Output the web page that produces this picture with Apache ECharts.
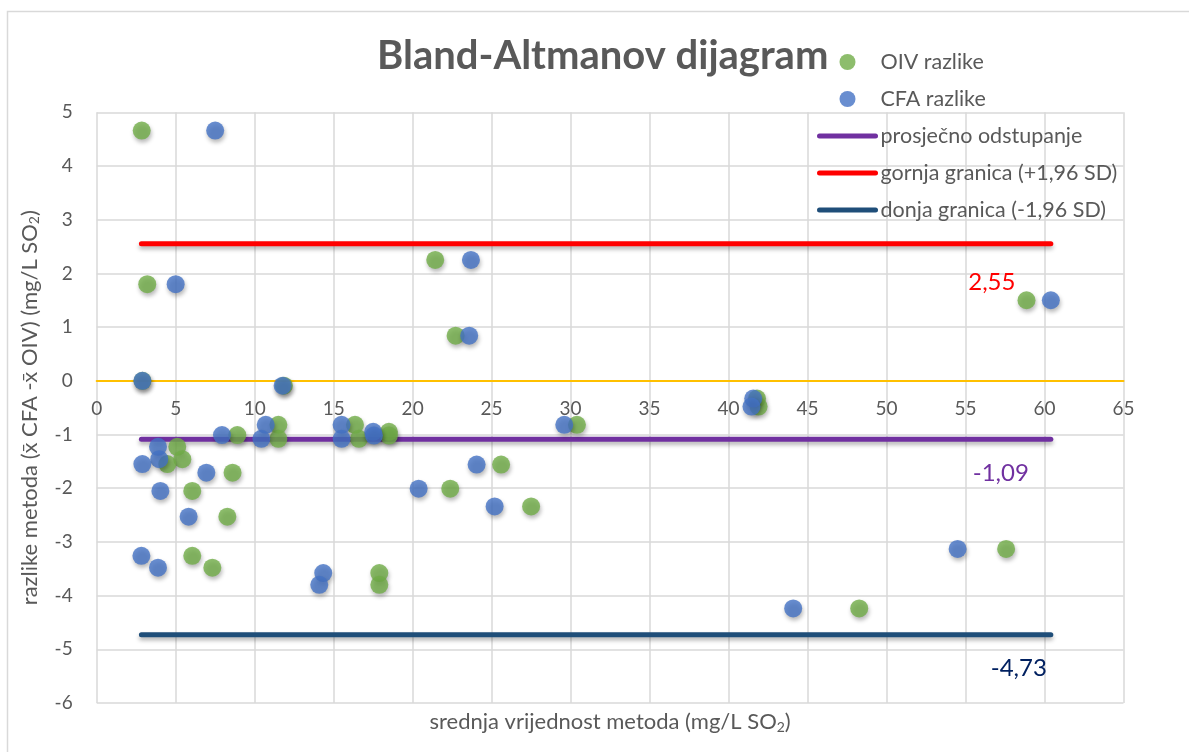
<!DOCTYPE html>
<html>
<head>
<meta charset="utf-8">
<script src="https://cdn.jsdelivr.net/npm/echarts@6/dist/echarts.min.js"></script>
<style>
html,body{margin:0;padding:0;background:#fff;}
#chart{width:1189px;height:752px;}
</style>
</head>
<body>
<div id="chart"></div>
<script>
// ---- data ----
const diffs = [4.66, 1.80, 0.00, -0.09, -1.01, -0.82, -1.08, -0.82, -1.08, -0.95, -1.02,
  -1.23, -1.46, -1.55, -1.71, -2.05, -2.53, -3.26, -3.48, -3.58, -3.80,
  2.25, 0.84, -0.82, -1.56, -2.01, -2.34, 1.50, -0.33, -0.48, -3.13, -4.24];
const oivMeans = [2.85, 3.2, 2.9, 11.85, 8.9, 11.5, 11.5, 16.35, 16.6, 18.5, 18.5,
  5.1, 5.42, 4.47, 8.6, 6.05, 8.27, 6.05, 7.32, 17.89, 17.89,
  21.43, 22.72, 30.4, 25.6, 22.38, 27.5, 58.86, 41.8, 41.9, 57.57, 48.27];
const cfaMeans = [7.5, 5.0, 2.89, 11.77, 7.93, 10.7, 10.42, 15.5, 15.5, 17.5, 17.55,
  3.88, 3.96, 2.89, 6.94, 4.03, 5.82, 2.83, 3.88, 14.34, 14.09,
  23.69, 23.58, 29.6, 24.05, 20.38, 25.19, 60.4, 41.56, 41.45, 54.5, 44.09];
const limitX = [2.83, 60.4];
const meanDiff = -1.09;
const upperLoA = 2.55;
const lowerLoA = -4.73;
const seriesNames = ['OIV razlike', 'CFA razlike', 'prosječno odstupanje',
  'gornja granica (+1,96 SD)', 'donja granica (-1,96 SD)'];
const xTicks = {min: 0, max: 65, interval: 5};
const yTicks = {min: -6, max: 5, interval: 1};

// ---- chart ----
const FONT = 'Lato, "Open Sans", sans-serif';
const GREY = '#595959';
const fmt = v => v.toFixed(2).replace('.', ',');
const pts = (xs, ys) => xs.map((x, i) => [x, ys[i]]);
const hline = y => limitX.map(x => [x, y]);

const GRID = {left: 96.7, right: 65.5, top: 112.3, bottom: 49};
const plotH = 752 - GRID.top - GRID.bottom;
const zeroOffset = -plotH * (0 - yTicks.min) / (yTicks.max - yTicks.min);

const dotStyle = color => ({
  color: color,
  shadowBlur: 4, shadowOffsetX: 1, shadowOffsetY: 3, shadowColor: 'rgba(0,0,0,0.35)'
});
const lineSeries = (name, y, color, labelColor, off) => ({
  name: name, type: 'line', data: hline(y), symbol: 'none', z: 2,
  lineStyle: {color: color, width: 5, cap: 'round',
    shadowBlur: 4, shadowOffsetY: 3, shadowColor: 'rgba(0,0,0,0.3)'},
  itemStyle: {color: color},
  emphasis: {disabled: true},
  endLabel: {show: true, formatter: () => fmt(y), color: labelColor,
    fontFamily: FONT, fontSize: 24, distance: 0, align: 'center',
    verticalAlign: 'middle', offset: off}
});
const hiddenIcon = {color: 'rgba(0,0,0,0)', borderWidth: 0, shadowColor: 'rgba(0,0,0,0)', opacity: 0};

const chart = echarts.init(document.getElementById('chart'), null, {renderer: 'canvas'});
chart.setOption({
  animation: false,
  backgroundColor: '#fff',
  textStyle: {fontFamily: FONT},
  graphic: [{type: 'rect', shape: {x: 7.5, y: 11.5, width: 1400, height: 900},
    style: {fill: 'none', stroke: '#D9D9D9', lineWidth: 1.5}, silent: true, z: -10}],
  title: {text: 'Bland-Altmanov dijagram', left: 372, top: 31,
    textStyle: {fontFamily: FONT, fontSize: 40, fontWeight: 'bold', color: GREY}},
  legend: {
    orient: 'vertical', left: 812, top: 46, itemWidth: 56, itemHeight: 16, itemGap: 15,
    lineStyle: {width: 5, cap: 'round', shadowBlur: 0, shadowColor: 'rgba(0,0,0,0)'},
    data: [
      {name: seriesNames[0]},
      {name: seriesNames[1]},
      {name: seriesNames[2], itemStyle: hiddenIcon},
      {name: seriesNames[3], itemStyle: hiddenIcon},
      {name: seriesNames[4], itemStyle: hiddenIcon}
    ],
    textStyle: {fontFamily: FONT, fontSize: 21.5, color: GREY, lineHeight: 16}
  },
  grid: Object.assign({containLabel: false}, GRID),
  xAxis: [{
    type: 'value', min: xTicks.min, max: xTicks.max, interval: xTicks.interval,
    position: 'bottom', offset: zeroOffset,
    axisLine: {onZero: false, lineStyle: {color: '#FFC000', width: 2}},
    axisTick: {show: false},
    axisLabel: {color: GREY, fontSize: 19, fontFamily: FONT, margin: 19,
      showMinLabel: true, showMaxLabel: true},
    splitLine: {lineStyle: {color: '#D9D9D9', width: 1.5}}
  }, {
    type: 'value', min: xTicks.min, max: xTicks.max, position: 'bottom',
    axisLine: {show: false, onZero: false}, axisTick: {show: false},
    axisLabel: {show: false}, splitLine: {show: false},
    name: 'srednja vrijednost metoda (mg/L SO{s|2})', nameLocation: 'middle', nameGap: 7,
    nameTextStyle: {color: GREY, fontSize: 22, fontFamily: FONT,
      rich: {s: {fontSize: 14, verticalAlign: 'bottom', color: GREY, fontFamily: FONT, padding: [10, 0, 0, 0]}}}
  }],
  yAxis: {
    type: 'value', min: yTicks.min, max: yTicks.max, interval: yTicks.interval,
    axisLine: {show: false}, axisTick: {show: false},
    axisLabel: {color: GREY, fontSize: 19, fontFamily: FONT, margin: 24},
    splitLine: {lineStyle: {color: '#D9D9D9', width: 1.5}},
    name: 'razlike metoda (x\u0304 CFA -x\u0304 OIV) (mg/L SO{s|2})',
    nameLocation: 'middle', nameGap: 55, nameRotate: 90,
    nameTextStyle: {color: GREY, fontSize: 22, fontFamily: FONT,
      rich: {s: {fontSize: 14, color: GREY, fontFamily: FONT, padding: [10, 0, 0, 0]}}}
  },
  series: [
    lineSeries(seriesNames[2], meanDiff, '#7030A0', '#7030A0', [-50, 34]),
    lineSeries(seriesNames[3], upperLoA, '#FF0000', '#FF0000', [-59, 38]),
    lineSeries(seriesNames[4], lowerLoA, '#1F4E79', '#002060', [-32, 33]),
    {name: seriesNames[0], type: 'scatter', data: pts(oivMeans, diffs), symbolSize: 18, z: 3,
      itemStyle: dotStyle('#70AD47')},
    {name: seriesNames[1], type: 'scatter', data: pts(cfaMeans, diffs), symbolSize: 18, z: 4,
      itemStyle: dotStyle('#4472C4')}
  ]
});
</script>
</body>
</html>
